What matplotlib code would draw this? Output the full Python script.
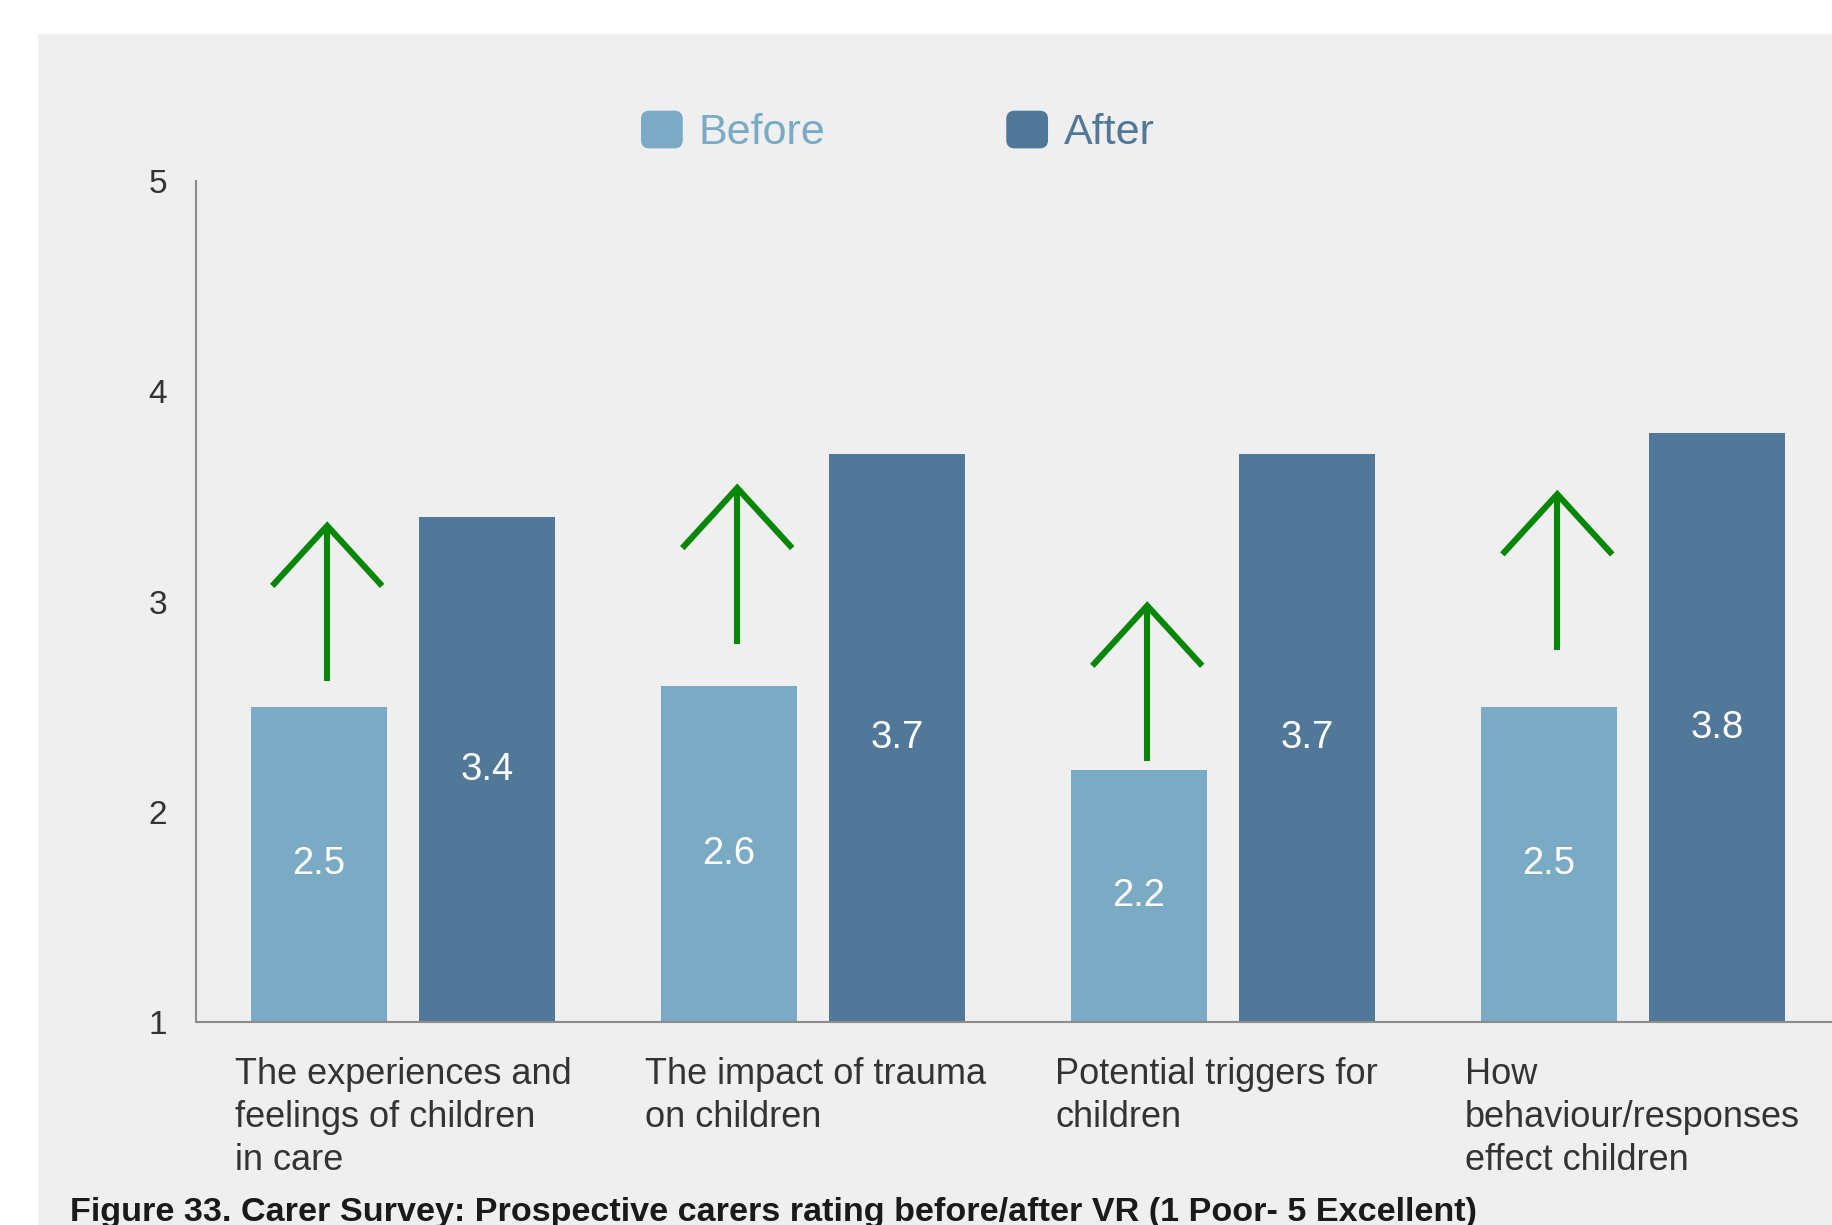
import matplotlib
matplotlib.use("Agg")
import matplotlib.pyplot as plt
from matplotlib.patches import Rectangle, FancyBboxPatch, Patch
from matplotlib.legend_handler import HandlerPatch
import matplotlib.transforms as mtransforms
import numpy as np

# ---- data ----
categories = [
    "The experiences and\nfeelings of children\nin care",
    "The impact of trauma\non children",
    "Potential triggers for\nchildren",
    "How\nbehaviour/responses\neffect children",
]
before = [2.5, 2.6, 2.2, 2.5]
after = [3.4, 3.7, 3.7, 3.8]
series_names = ["Before", "After"]
yticks = [1, 2, 3, 4, 5]
arrow_start = [2.62, 2.80, 2.24, 2.77]   # y where the green "improvement" arrows begin
arrow_length = 0.74
caption = "Figure 33. Carer Survey: Prospective carers rating before/after VR (1 Poor- 5 Excellent)"

# ---- style ----
C_BEFORE = "#7AAAC4"
C_AFTER = "#517799"
C_GREEN = "#078707"
C_BG = "#EFEFEF"
C_TEXT = "#333333"
FONT = ["Liberation Sans", "DejaVu Sans"]
plt.rcParams["font.family"] = FONT

W, H = 1832, 1225
DPI = 100
fig = plt.figure(figsize=(W / DPI, H / DPI), dpi=DPI, facecolor="white")

# grey panel
fig.patches.append(Rectangle((38 / W, 0), 1 - 38 / W, 1 - 34 / H,
                             transform=fig.transFigure, facecolor=C_BG,
                             edgecolor="none", zorder=-5))

ax_left, ax_bottom = 196 / W, (H - 1022) / H
ax = fig.add_axes([ax_left, ax_bottom, 1 - ax_left, (1022 - 181) / H])
ax.set_facecolor("none")
ax.set_zorder(2)

x = np.arange(len(categories))
bw = 0.332
off = 0.205
ax.bar(x - off, np.array(before) - 1, bw, bottom=1, color=C_BEFORE, zorder=2)
ax.bar(x + off, np.array(after) - 1, bw, bottom=1, color=C_AFTER, zorder=2)

for xi, v in zip(x - off, before):
    ax.text(xi, (1 + v) / 2, f"{v:.1f}", color="white", fontsize=27.5,
            ha="center", va="center", zorder=3)
for xi, v in zip(x + off, after):
    ax.text(xi, (1 + v) / 2, f"{v:.1f}", color="white", fontsize=27.5,
            ha="center", va="center", zorder=3)

# green arrows
dx, dy = 0.134, 0.286
for xi, y0 in zip(x - off + 0.02, arrow_start):
    y1 = y0 + arrow_length
    ax.plot([xi, xi], [y0, y1], color=C_GREEN, lw=4.4, solid_capstyle="butt", zorder=3)
    ax.plot([xi - dx, xi, xi + dx], [y1 - dy, y1, y1 - dy], color=C_GREEN, lw=4.4,
            solid_joinstyle="miter", solid_capstyle="butt", zorder=3)

ax.set_xlim(-0.505, 3.485)
ax.set_ylim(1, 5)
ax.set_yticks(yticks)
ax.set_yticklabels([str(t) for t in yticks])
ax.tick_params(axis="y", length=0, pad=21, labelsize=24, labelcolor=C_TEXT)
ax.set_xticks([])
for s in ["top", "right"]:
    ax.spines[s].set_visible(False)
for s in ["left", "bottom"]:
    ax.spines[s].set_color("#8C8C8C")
    ax.spines[s].set_linewidth(1.5)
    ax.spines[s].set_zorder(4)

# category labels
trans = mtransforms.blended_transform_factory(ax.transData, ax.transAxes)
for xi, lab in zip(x, categories):
    ax.text(xi - 0.41, -0.042, lab, transform=trans, ha="left", va="top",
            fontsize=26, color=C_TEXT, linespacing=1.29, clip_on=False)

# legend with rounded squares
class RoundHandler(HandlerPatch):
    def create_artists(self, legend, orig_handle, xdescent, ydescent, width,
                       height, fontsize, trans):
        p = FancyBboxPatch((-xdescent, -ydescent), width, height,
                           boxstyle="round,pad=0,rounding_size=6",
                           facecolor=orig_handle.get_facecolor(),
                           edgecolor="none", transform=trans)
        return [p]

handles = [Patch(facecolor=C_BEFORE), Patch(facecolor=C_AFTER)]
leg = fig.legend(handles, series_names, loc="center left",
                 bbox_to_anchor=(641 / W, 1 - 132 / H), bbox_transform=fig.transFigure,
                 ncol=2, frameon=False, fontsize=31, borderpad=0, borderaxespad=0,
                 handlelength=0.97, handleheight=0.97, handletextpad=0.37,
                 columnspacing=4.2,
                 handler_map={Patch: RoundHandler()})
for t, c in zip(leg.get_texts(), [C_BEFORE, C_AFTER]):
    t.set_color(c)

# caption, fitted to its width in the reference
cap = fig.text(70 / W, (H - 1221) / H, caption, fontsize=24.5, fontweight="bold",
               color="#1A1A1A", ha="left", va="baseline",
               family=["Liberation Sans Narrow", "Liberation Sans", "DejaVu Sans"])
fig.canvas.draw()
wpx = cap.get_window_extent().width
target = 1404
if wpx > 0:
    cap.set_fontsize(24.5 * target / wpx)

fig.savefig("out.png", dpi=DPI, facecolor="white")
